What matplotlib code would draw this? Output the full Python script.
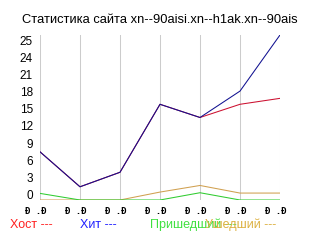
import matplotlib
matplotlib.use("Agg")
import matplotlib.pyplot as plt
import matplotlib.transforms as mtransforms
import numpy as np

title = "Статистика сайта xn--90aisi.xn--h1ak.xn--90ais"
x_labels = ["Ð .Ð"] * 7
y_labels = ["0", "3", "6", "9", "12", "15", "18", "21", "24", "25"]

host = [7.3, 2.0, 4.2, 14.5, 12.5, 14.5, 15.4]
hits = [7.3, 2.0, 4.2, 14.5, 12.5, 16.5, 25.0]
came = [1.0, 0.0, 0.0, 0.0, 1.1, 0.0, 0.0]
left = [0.0, 0.0, 0.0, 1.2, 2.2, 1.05, 1.05]

legend_names = ["Хост ---", "Хит ---", "Пришедший ---", "Ушедший ---"]

plt.rcParams['font.family'] = ['Liberation Sans', 'DejaVu Sans']

fig = plt.figure(figsize=(3.2, 2.4), dpi=100)
ax = fig.add_axes([0.125, 0.1667, 0.75, 0.6875])

x = np.arange(len(x_labels))
ax.plot(x, host, color="#cc1030", lw=0.75)
ax.plot(x, hits, color="#101090", lw=0.75)
ax.plot(x, left, color="#d0a050", lw=0.75)
ax.plot(x, came, color="#30cc30", lw=0.75)

ax.set_xlim(0, len(x) - 1)
ax.set_ylim(0, 25)

for xi in x:
    ax.axvline(xi, color="#cccccc", lw=0.75, zorder=0)

for s in ax.spines.values():
    s.set_visible(False)

# y labels spread evenly, as the original chart does
ypos = np.linspace(0.9, 24.1, len(y_labels))
ax.set_yticks(ypos)
ax.set_yticklabels(y_labels, fontsize=8.5)
ax.tick_params(axis="y", length=0, pad=5)

ax.set_xticks(x)
ax.set_xticklabels(x_labels, family="DejaVu Sans Mono", fontsize=6.5,
                   fontweight="bold")
ax.tick_params(axis="x", length=0, pad=5)
shift = mtransforms.ScaledTranslation(-4.5 / 100, 0, fig.dpi_scale_trans)
for lab in ax.get_xticklabels():
    lab.set_transform(lab.get_transform() + shift)

fig.text(0.5, 0.915, title, ha="center", va="center", fontsize=9.3)

leg_colors = ["#ff2020", "#2020ff", "#40e040", "#dcb040"]
leg_x = [10, 80, 150, 205]
for name, c, lx in zip(legend_names, leg_colors, leg_x):
    fig.text(lx / 320, 1 - 225 / 240, name, color=c, fontsize=9,
             ha="left", va="center")

fig.savefig("out.png", dpi=100)
